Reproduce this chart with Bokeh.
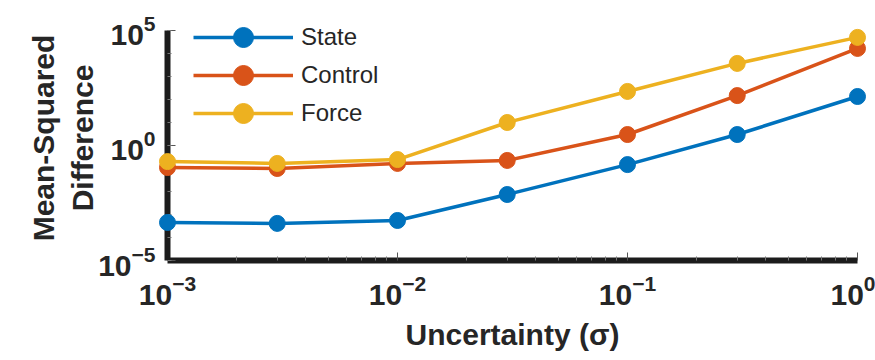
from bokeh.plotting import figure
from bokeh.models import FixedTicker, Legend, LegendItem, LogTickFormatter
from bokeh.embed import file_html
from bokeh.resources import INLINE

# Noise level of the perturbation and the resulting mean-squared differences
sigma = [1e-3, 3e-3, 1e-2, 3e-2, 1e-1, 3e-1, 1.0]
state = [4.5e-4, 4.1e-4, 5.5e-4, 7.4e-3, 0.148, 3.0, 135.0]
control = [0.11, 0.10, 0.166, 0.224, 3.0, 148.0, 16600.0]
force = [0.20, 0.166, 0.245, 10.0, 224.0, 3700.0, 50100.0]

series_names = ["State", "Control", "Force"]
series_values = [state, control, force]
series_colors = ["#0072BD", "#D95319", "#EDB120"]

x_major = [1e-3, 1e-2, 1e-1, 1.0]
x_minor = [m * 10.0 ** k for k in range(-3, 0) for m in range(2, 10)]
y_major = [1e-5, 1.0, 1e5]
y_minor = [10.0 ** k for k in range(-5, 6)]

FONT = "Liberation Sans"
INK = "#262626"

# The frame reaches a little above 1e5 so the legend has room at the top;
# the y axis line itself stops at 1e5.
p = figure(
    width=875, height=360,
    x_axis_type="log", y_axis_type="log",
    x_range=(1e-3, 1.0), y_range=(1e-5, 10 ** 5.652),
    output_backend="svg", toolbar_location=None,
    min_border_left=167, min_border_right=18,
    min_border_top=15, min_border_bottom=100,
)
p.outline_line_color = None
p.background_fill_color = "white"
p.border_fill_color = "white"
p.xgrid.visible = False
p.ygrid.visible = False

p.xaxis.ticker = FixedTicker(ticks=x_major, minor_ticks=x_minor)
p.yaxis.ticker = FixedTicker(ticks=y_major, minor_ticks=y_minor)
p.xaxis.formatter = LogTickFormatter()
p.yaxis.formatter = LogTickFormatter()
p.yaxis.bounds = (1e-5, 1e5)

for ax in (p.xaxis[0], p.yaxis[0]):
    ax.axis_line_width = 6
    ax.axis_line_color = "#1c1c1c"
    ax.major_tick_in = 8
    ax.major_tick_out = 0
    ax.minor_tick_in = 4
    ax.minor_tick_out = 0
    ax.major_tick_line_color = "#555555"
    ax.minor_tick_line_color = "#777777"
    ax.major_tick_line_width = 1
    ax.minor_tick_line_width = 1
    ax.major_label_text_font = FONT
    ax.major_label_text_font_style = "bold"
    ax.major_label_text_font_size = "30px"
    ax.major_label_text_color = INK
    ax.axis_label_text_font = FONT
    ax.axis_label_text_font_style = "bold"
    ax.axis_label_text_font_size = "30px"
    ax.axis_label_text_color = INK

p.xaxis.axis_label = "Uncertainty (\u03c3)"
p.yaxis.axis_label = "Mean-Squared\nDifference"
p.xaxis.major_label_standoff = 14
p.xaxis.axis_label_standoff = 10
p.yaxis.major_label_standoff = 12
p.yaxis.axis_label_standoff = -4

# Data lines with markers, drawn above the axis lines
items = []
for name, vals, color in zip(series_names, series_values, series_colors):
    ln = p.line(sigma, vals, line_color=color, line_width=3.5)
    dots = p.scatter(sigma, vals, size=16, fill_color=color, line_color=color)
    ln.level = "overlay"
    dots.level = "overlay"
    items.append(LegendItem(label=name, renderers=[ln, dots]))

# One single-entry legend per row, so each key can have a large marker
# while the rows stay close together.
row_bottoms = [198, 160, 122]
for item, yb in zip(items, row_bottoms):
    legend = Legend(
        items=[item],
        location=(26, yb),
        padding=0, margin=0, spacing=0,
        glyph_width=100, glyph_height=50, label_height=50,
        label_standoff=8,
        label_text_font=FONT, label_text_font_size="24px",
        label_text_color=INK,
        background_fill_alpha=0, border_line_alpha=0,
    )
    p.add_layout(legend, "center")

open("out.html", "w").write(file_html(p, INLINE))
